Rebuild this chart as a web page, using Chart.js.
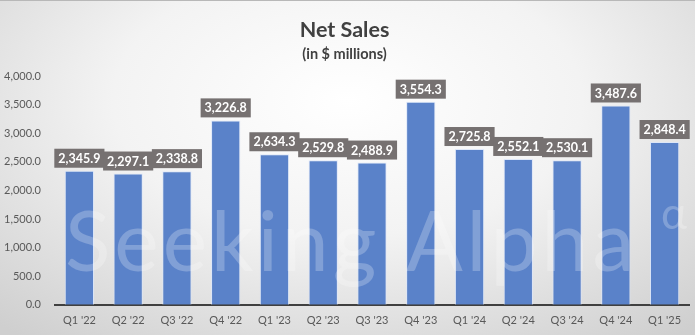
<!DOCTYPE html>
<html>
<head>
<meta charset="utf-8">
<script src="https://cdn.jsdelivr.net/npm/chart.js@4"></script>
<style>
  html, body { margin: 0; padding: 0; }
  body {
    width: 695px; height: 335px; overflow: hidden;
    background: radial-gradient(ellipse 75% 90% at 50% 30%, #ffffff 0%, #f3f3f3 45%, #cfcfcf 100%);
  }
  #wrap { position: relative; width: 695px; height: 335px; border-top: 1px solid #b8b8b8; box-sizing: border-box; }
</style>
</head>
<body>
<div id="wrap"><canvas id="salesChart" width="695" height="334"></canvas></div>
<script>
// Net sales per quarter, in $ millions
var quarters = ["Q1 '22", "Q2 '22", "Q3 '22", "Q4 '22", "Q1 '23", "Q2 '23", "Q3 '23", "Q4 '23", "Q1 '24", "Q2 '24", "Q3 '24", "Q4 '24", "Q1 '25"];
var netSales = [2345.9, 2297.1, 2338.8, 3226.8, 2634.3, 2529.8, 2488.9, 3554.3, 2725.8, 2552.1, 2530.1, 3487.6, 2848.4];

var FONT = 'Lato, "Open Sans", sans-serif';

function fmt(v) {
    return v.toLocaleString('en-US', { minimumFractionDigits: 1, maximumFractionDigits: 1 });
}

// watermark + label boxes above the bars
var labelPlugin = {
    id: 'labelBoxes',
    afterDatasetsDraw: function (chart) {
        var ctx = chart.ctx;
        var area = chart.chartArea;
        ctx.save();
        ctx.font = '84px ' + FONT;
        ctx.letterSpacing = '4px';
        ctx.fillStyle = 'rgba(255,255,255,0.24)';
        ctx.textBaseline = 'alphabetic';
        ctx.fillText('Seeking Alpha', area.left + 10, area.bottom - 34);
        ctx.letterSpacing = '0px';
        ctx.font = '44px ' + FONT;
        ctx.fillText('\u03b1', area.right - 28, area.bottom - 76);

        var meta = chart.getDatasetMeta(0);
        ctx.font = 'bold 12.5px ' + FONT;
        ctx.textAlign = 'center';
        ctx.textBaseline = 'middle';
        meta.data.forEach(function (bar, i) {
            var txt = fmt(netSales[i]);
            var w = ctx.measureText(txt).width + 8;
            var h = 19;
            var x = bar.x;
            var y = bar.y - 3 - h / 2;
            ctx.fillStyle = '#767171';
            ctx.fillRect(x - w / 2, y - h / 2, w, h);
            ctx.fillStyle = '#ffffff';
            ctx.fillText(txt, x, y + 0.5);
        });
        ctx.restore();
    }
};

var ctx = document.getElementById('salesChart').getContext('2d');
var chart = new Chart(ctx, {
    type: 'bar',
    data: {
        labels: quarters,
        datasets: [{
            data: netSales,
            backgroundColor: '#5a82c9',
            borderColor: 'rgba(220,230,248,0.9)',
            borderWidth: 1,
            categoryPercentage: 1.0,
            barPercentage: 0.6
        }]
    },
    options: {
        responsive: false,
        animation: false,
        layout: { padding: { left: 0, right: 6, top: 0, bottom: 7 } },
        plugins: {
            legend: { display: false },
            tooltip: { enabled: false },
            title: {
                display: true,
                text: 'Net Sales',
                color: '#404040',
                font: { family: FONT, size: 21.5, weight: 'bold' },
                padding: { top: 16, bottom: 2 }
            },
            subtitle: {
                display: true,
                text: '(in $ millions)',
                color: '#404040',
                font: { family: FONT, size: 14.5, weight: 'bold' },
                padding: { top: 1, bottom: 13 }
            }
        },
        scales: {
            x: {
                grid: { display: false },
                border: { display: true, color: '#404040', width: 2 },
                ticks: { color: '#595959', font: { family: FONT, size: 11 }, padding: 1 }
            },
            y: {
                min: 0,
                max: 4000,
                grid: { display: false },
                border: { display: false },
                afterFit: function (s) { s.width = 55; },
                ticks: {
                    stepSize: 500,
                    color: '#595959',
                    font: { family: FONT, size: 11 },
                    padding: 6,
                    callback: function (v) { return fmt(v); }
                }
            }
        }
    },
    plugins: [labelPlugin]
});
</script>
</body>
</html>
